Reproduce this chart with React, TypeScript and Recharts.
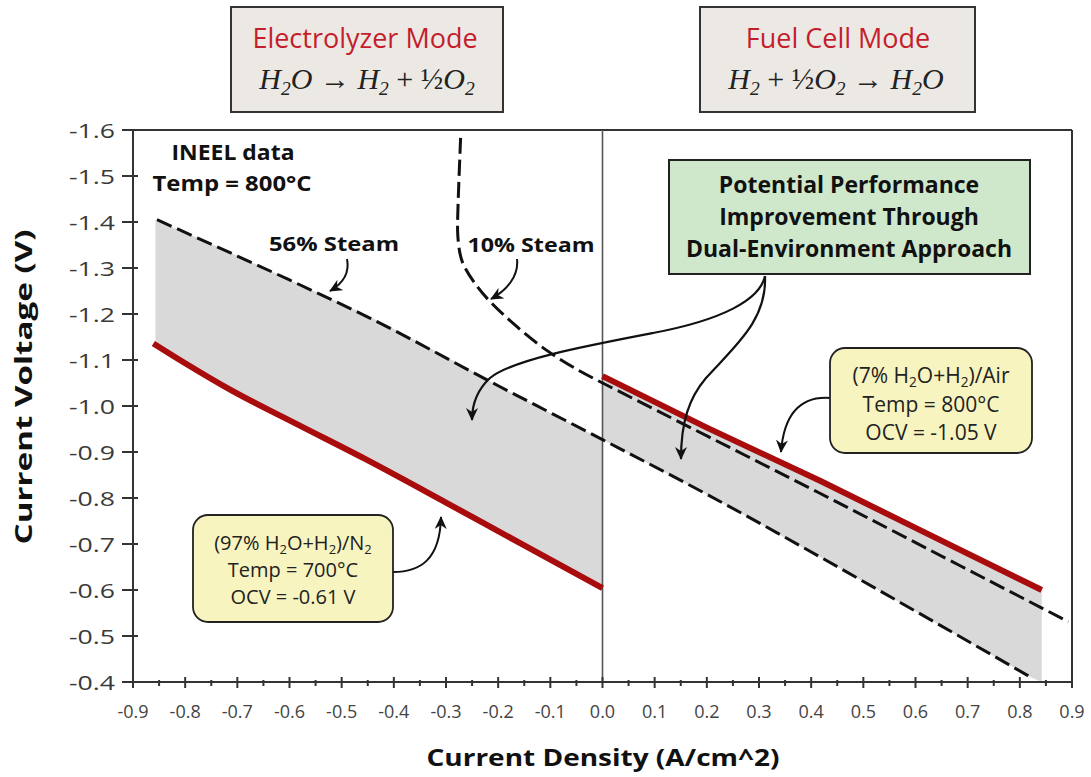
import React from "react";
import {
  ComposedChart,
  Line,
  Area,
  XAxis,
  YAxis,
  ReferenceLine,
} from "recharts";

// current density (A/cm^2) and voltage (V)
const steam56X = [-0.854, -0.7, -0.6, -0.444, -0.2, 0, 0.2, 0.456, 0.6, 0.82];
const steam56V = [-1.405, -1.326, -1.274, -1.19, -1.044, -0.927, -0.808, -0.647, -0.554, -0.411];

const steam10X = [-0.272, -0.276, -0.278, -0.278, -0.274, -0.266, -0.243, -0.218, -0.165, -0.106, -0.048, 0, 0.2, 0.418, 0.6, 0.893];
const steam10V = [-1.583, -1.47, -1.4, -1.372, -1.33, -1.302, -1.263, -1.228, -1.172, -1.118, -1.078, -1.05, -0.935, -0.81, -0.703, -0.531];

const cell700X = [-0.861, -0.8, -0.713, -0.585, -0.457, -0.3, -0.2, -0.1, 0];
const cell700V = [-1.136, -1.093, -1.035, -0.96, -0.886, -0.79, -0.728, -0.666, -0.604];

const cell800X = [0, 0.2, 0.418, 0.6, 0.842];
const cell800V = [-1.065, -0.953, -0.837, -0.735, -0.6];

const gapLeftX = [-0.857, -0.8, -0.713, -0.585, -0.457, -0.3, -0.2, -0.1, 0];
const gapLeftLow = [-1.133, -1.093, -1.035, -0.96, -0.886, -0.79, -0.728, -0.666, -0.604];
const gapLeftHigh = [-1.403, -1.377, -1.333, -1.266, -1.2, -1.107, -1.044, -0.985, -0.927];

const gapRightX = [0, 0.2, 0.456, 0.6, 0.82, 0.842];
const gapRightTop = [-1.065, -0.953, -0.813, -0.735, -0.612, -0.6];
const gapRightBottom = [-0.927, -0.808, -0.647, -0.554, -0.411, -0.4];

const voltageTicks = [-1.6, -1.5, -1.4, -1.3, -1.2, -1.1, -1.0, -0.9, -0.8, -0.7, -0.6, -0.5, -0.4];
const densityMajor = [-0.9, -0.8, -0.7, -0.6, -0.5, -0.4, -0.3, -0.2, -0.1, 0, 0.1, 0.2, 0.3, 0.4, 0.5, 0.6, 0.7, 0.8, 0.9];
const densityMinor = [-0.85, -0.75, -0.65, -0.55, -0.45, -0.35, -0.25, -0.15, -0.05, 0.05, 0.15, 0.25, 0.35, 0.45, 0.55, 0.65, 0.75, 0.85];

const toPoints = (xs: number[], vs: number[]) => xs.map((x, i) => ({ x, v: vs[i] }));
const toBand = (xs: number[], a: number[], b: number[]) =>
  xs.map((x, i) => ({ x, band: [a[i], b[i]] }));

const steam56Data = toPoints(steam56X, steam56V);
const steam10Data = toPoints(steam10X, steam10V);
const cell700Data = toPoints(cell700X, cell700V);
const cell800Data = toPoints(cell800X, cell800V);
const gapLeftData = toBand(gapLeftX, gapLeftLow, gapLeftHigh);
const gapRightData = toBand(gapRightX, gapRightBottom, gapRightTop);

const FONT = "'Open Sans', 'Noto Sans', sans-serif";
const SERIF = "'Liberation Serif', 'DejaVu Serif', serif";
const RED = "#a80c0c";

const VoltTick = (props: any) => {
  const { x, y, payload } = props;
  return (
    <g>
      <line x1={x - 11} x2={x + 5} y1={y} y2={y} stroke="#333" strokeWidth={2} />
      <text
        x={x - 18}
        y={y}
        textAnchor="end"
        dominantBaseline="central"
        fontFamily={FONT}
        fontSize={20}
        fill="#3a3a3a"
        textLength={46}
        lengthAdjust="spacingAndGlyphs"
      >
        {Number(payload.value).toFixed(1)}
      </text>
    </g>
  );
};

const DensityTick = (props: any) => {
  const { x, y, payload } = props;
  const v = Number(payload.value);
  const major = Math.abs(Math.round(v * 10) - v * 10) < 1e-6;
  if (!major) {
    return <line x1={x} x2={x} y1={y - 2} y2={y + 4} stroke="#333" strokeWidth={2} />;
  }
  return (
    <g>
      <line x1={x} x2={x} y1={y - 5} y2={y + 6} stroke="#333" strokeWidth={2} />
      <text
        x={x}
        y={y + 29}
        textAnchor="middle"
        dominantBaseline="central"
        fontFamily={FONT}
        fontSize={18}
        fill="#444"
      >
        {Math.abs(v) < 1e-9 ? "0.0" : v.toFixed(1)}
      </text>
    </g>
  );
};

const Sub = ({ children }: { children: React.ReactNode }) => (
  <tspan baselineShift="-28%" fontSize="0.65em">{children}</tspan>
);

const Arrow = ({ d, w = 2 }: { d: string; w?: number }) => (
  <path d={d} fill="none" stroke="#111" strokeWidth={w} markerEnd="url(#tip)" />
);

const Overlay = () => (
  <svg
    width={1091}
    height={777}
    style={{ position: "absolute", left: 0, top: 0, pointerEvents: "none" }}
  >
    <defs>
      <marker
        id="tip"
        markerWidth={14}
        markerHeight={12}
        refX={12}
        refY={6}
        orient="auto"
        markerUnits="userSpaceOnUse"
      >
        <path d="M0,0 L13,6 L0,12 L4,6 Z" fill="#111" />
      </marker>
    </defs>

    {/* mode boxes */}
    <rect x={231} y={7} width={272} height={105} fill="#ece9e5" stroke="#333" strokeWidth={2} />
    <text x={365} y={48} textAnchor="middle" fontFamily={FONT} fontSize={27} fill="#c41e2c">
      Electrolyzer Mode
    </text>
    <text x={367} y={89} textAnchor="middle" fontFamily={SERIF} fontSize={30} fontStyle="italic" fill="#222">
      H<Sub>2</Sub>O<tspan fontStyle="normal"> → </tspan>H<Sub>2</Sub>
      <tspan fontStyle="normal"> + ½</tspan>O<Sub>2</Sub>
    </text>

    <rect x={700} y={7} width={275} height={105} fill="#ece9e5" stroke="#333" strokeWidth={2} />
    <text x={838} y={48} textAnchor="middle" fontFamily={FONT} fontSize={27} fill="#c41e2c">
      Fuel Cell Mode
    </text>
    <text x={836} y={89} textAnchor="middle" fontFamily={SERIF} fontSize={30} fontStyle="italic" fill="#222">
      H<Sub>2</Sub>
      <tspan fontStyle="normal"> + ½</tspan>O<Sub>2</Sub>
      <tspan fontStyle="normal"> → </tspan>H<Sub>2</Sub>O
    </text>

    {/* axis titles */}
    <text
      transform="translate(32,387) rotate(-90)"
      textAnchor="middle"
      fontFamily={FONT}
      fontWeight="bold"
      fontSize={23}
      fill="#111"
      textLength={315}
      lengthAdjust="spacingAndGlyphs"
    >
      Current Voltage (V)
    </text>
    <text
      x={603}
      y={766}
      textAnchor="middle"
      fontFamily={FONT}
      fontWeight="bold"
      fontSize={24}
      fill="#111"
      textLength={353}
      lengthAdjust="spacingAndGlyphs"
    >
      Current Density (A/cm^2)
    </text>

    {/* INEEL note */}
    <text x={233} y={160} textAnchor="middle" fontFamily={FONT} fontWeight="bold" fontSize={21}
      fill="#111" textLength={123} lengthAdjust="spacingAndGlyphs">
      INEEL data
    </text>
    <text x={232} y={191} textAnchor="middle" fontFamily={FONT} fontWeight="bold" fontSize={21}
      fill="#111" textLength={159} lengthAdjust="spacingAndGlyphs">
      Temp = 800°C
    </text>

    {/* steam labels */}
    <text x={334} y={251} textAnchor="middle" fontFamily={FONT} fontWeight="bold" fontSize={20}
      fill="#111" textLength={130} lengthAdjust="spacingAndGlyphs">
      56% Steam
    </text>
    <Arrow d="M347,259 C350,274 342,284 330,291" />
    <text x={531} y={252} textAnchor="middle" fontFamily={FONT} fontWeight="bold" fontSize={20}
      fill="#111" textLength={127} lengthAdjust="spacingAndGlyphs">
      10% Steam
    </text>
    <Arrow d="M517,259 C519,276 507,290 491,299" />

    {/* green callout */}
    <Arrow w={2.2} d="M765,276 C760,300 722,320 653,333 C580,347 512,360 490,378 C477,390 472,404 472,420" />
    <Arrow w={2.2} d="M765,276 C767,320 736,345 706,378 C689,398 681,422 681,459" />
    <rect x={669} y={160} width={361} height={114} fill="#cfe8cc" stroke="#222" strokeWidth={2} />
    {["Potential Performance", "Improvement Through", "Dual-Environment Approach"].map((t, i) => (
      <text
        key={t}
        x={849}
        y={193 + i * 32}
        textAnchor="middle"
        fontFamily={FONT}
        fontWeight="bold"
        fontSize={23}
        fill="#111"
      >
        {t}
      </text>
    ))}

    {/* 800C fuel cell note */}
    <Arrow d="M830,398 C800,396 784,414 781,452" />
    <rect x={830} y={348} width={202} height={105} rx={15} fill="#f7f4bf" stroke="#222" strokeWidth={1.8} />
    <text x={931} y={383} textAnchor="middle" fontFamily={FONT} fontSize={21} fill="#222">
      (7% H<Sub>2</Sub>O+H<Sub>2</Sub>)/Air
    </text>
    <text x={931} y={412} textAnchor="middle" fontFamily={FONT} fontSize={21} fill="#222">
      Temp = 800°C
    </text>
    <text x={931} y={440} textAnchor="middle" fontFamily={FONT} fontSize={21} fill="#222">
      OCV = -1.05 V
    </text>

    {/* 700C electrolysis note */}
    <Arrow d="M393,572 C420,572 440,560 441,517" />
    <rect x={193} y={515} width={200} height={107} rx={15} fill="#f7f4bf" stroke="#222" strokeWidth={1.8} />
    <text x={293} y={550} textAnchor="middle" fontFamily={FONT} fontSize={20} fill="#222">
      (97% H<Sub>2</Sub>O+H<Sub>2</Sub>)/N<Sub>2</Sub>
    </text>
    <text x={293} y={577} textAnchor="middle" fontFamily={FONT} fontSize={20} fill="#222">
      Temp = 700°C
    </text>
    <text x={293} y={604} textAnchor="middle" fontFamily={FONT} fontSize={20} fill="#222">
      OCV = -0.61 V
    </text>
  </svg>
);

export default function App() {
  return (
    <div style={{ position: "absolute", left: 0, top: 0, width: 1091, height: 777, background: "#fff" }}>
      <ComposedChart width={1091} height={777} margin={{ top: 130, right: 19, bottom: 0, left: 0 }}>
        <XAxis
          type="number"
          dataKey="x"
          domain={[-0.9, 0.9]}
          ticks={[...densityMajor, ...densityMinor].sort((a, b) => a - b)}
          interval={0}
          tick={<DensityTick />}
          tickLine={false}
          tickSize={0}
          tickMargin={0}
          axisLine={{ stroke: "#333", strokeWidth: 2 }}
          height={95}
          allowDataOverflow
        />
        <YAxis
          type="number"
          domain={[-1.6, -0.4]}
          reversed
          ticks={voltageTicks}
          interval={0}
          tick={<VoltTick />}
          tickLine={false}
          tickSize={0}
          tickMargin={0}
          axisLine={{ stroke: "#333", strokeWidth: 2 }}
          width={133}
          allowDataOverflow
        />
        <ReferenceLine y={-1.6} stroke="#333" strokeWidth={2} />
        <ReferenceLine x={0.9} stroke="#333" strokeWidth={2} />
        <Area
          data={gapLeftData}
          dataKey="band"
          type="monotone"
          fill="#d9d9d9"
          fillOpacity={1}
          stroke="none"
          isAnimationActive={false}
        />
        <Area
          data={gapRightData}
          dataKey="band"
          type="linear"
          fill="#d9d9d9"
          fillOpacity={1}
          stroke="none"
          isAnimationActive={false}
        />
        <ReferenceLine x={0} stroke="#555" strokeWidth={1.6} />
        <Line
          data={steam56Data}
          dataKey="v"
          type="monotone"
          stroke="#111"
          strokeWidth={3}
          strokeDasharray="16 6"
          dot={false}
          isAnimationActive={false}
        />
        <Line
          data={steam10Data}
          dataKey="v"
          type="basis"
          stroke="#111"
          strokeWidth={3}
          strokeDasharray="16 6"
          dot={false}
          isAnimationActive={false}
        />
        <Line
          data={cell700Data}
          dataKey="v"
          type="monotone"
          stroke={RED}
          strokeWidth={6}
          dot={false}
          isAnimationActive={false}
        />
        <Line
          data={cell800Data}
          dataKey="v"
          type="linear"
          stroke={RED}
          strokeWidth={6}
          dot={false}
          isAnimationActive={false}
        />
      </ComposedChart>
      <Overlay />
    </div>
  );
}
